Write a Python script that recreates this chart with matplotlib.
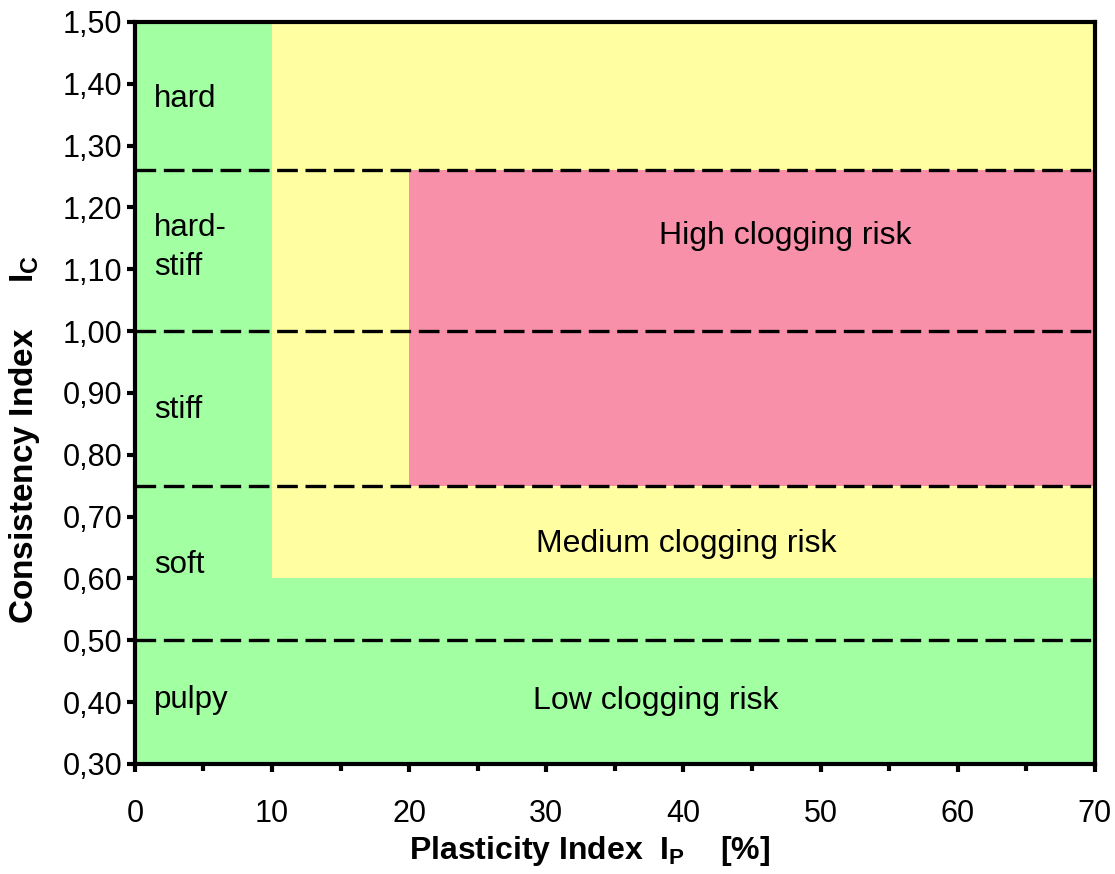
import matplotlib
matplotlib.use("Agg")
import matplotlib.pyplot as plt
from matplotlib.ticker import MultipleLocator, FuncFormatter

plt.rcParams["font.family"] = ["Liberation Sans", "DejaVu Sans"]
plt.rcParams["mathtext.fontset"] = "custom"
plt.rcParams["mathtext.rm"] = "Liberation Sans"
plt.rcParams["mathtext.bf"] = "Liberation Sans:bold"

# zones: (x0, x1, y0, y1, colour)
zone_x0 = [0, 10, 20]
zone_x1 = [70, 70, 70]
zone_y0 = [0.30, 0.60, 0.75]
zone_y1 = [1.50, 1.50, 1.26]
zone_colors = ["#A2FFA2", "#FFFFA2", "#F890AA"]

# consistency boundaries (dashed)
boundaries = [1.26, 1.00, 0.75, 0.50]

# consistency class labels
class_names = ["hard", "hard-\nstiff", "stiff", "soft", "pulpy"]
class_y = [1.375, 1.135, 0.873, 0.622, 0.404]

# risk labels
risk_names = ["High clogging risk", "Medium clogging risk", "Low clogging risk"]
risk_x = [47.4, 40.2, 38.0]
risk_y = [1.154, 0.656, 0.402]

fig = plt.figure(figsize=(11.15, 8.74), dpi=100)
ax = fig.add_axes([0.121, 0.126, 0.861, 0.849])

for x0, x1, y0, y1, c in zip(zone_x0, zone_x1, zone_y0, zone_y1, zone_colors):
    ax.fill_between([x0, x1], y0, y1, color=c, linewidth=0, zorder=1)

for b in boundaries:
    ax.plot([0, 70], [b, b], color="black", lw=2.4, linestyle=(0, (6.2, 2.3)), zorder=2)

for name, y in zip(class_names, class_y):
    ax.text(1.4, y, name, fontsize=22.5, ha="left", va="center", zorder=3, linespacing=1.4)

for name, x, y in zip(risk_names, risk_x, risk_y):
    ax.text(x, y, name, fontsize=23, ha="center", va="center", zorder=3)

ax.set_xlim(0, 70)
ax.set_ylim(0.30, 1.50)
ax.xaxis.set_major_locator(MultipleLocator(10))
ax.xaxis.set_minor_locator(MultipleLocator(5))
ax.yaxis.set_major_locator(MultipleLocator(0.1))
ax.yaxis.set_major_formatter(FuncFormatter(lambda v, p: f"{v:.2f}".replace(".", ",")))

for s in ax.spines.values():
    s.set_linewidth(3)
    s.set_zorder(5)
ax.tick_params(which="both", direction="out", width=3, labelsize=22)
ax.tick_params(which="major", length=6)
ax.tick_params(axis="x", which="major", pad=19)
ax.tick_params(axis="y", which="major", pad=3)
ax.tick_params(which="minor", length=5)

ax.set_xlabel(r"Plasticity Index  $\mathbf{I_P}$    [%]", fontsize=23, fontweight="bold")
ax.set_ylabel(r"Consistency Index     $\mathbf{I_C}$", fontsize=24, fontweight="bold")
ax.xaxis.set_label_coords(0.474, -0.095)
ax.yaxis.set_label_coords(-0.097, 0.437)

fig.savefig("out.png", dpi=100)
